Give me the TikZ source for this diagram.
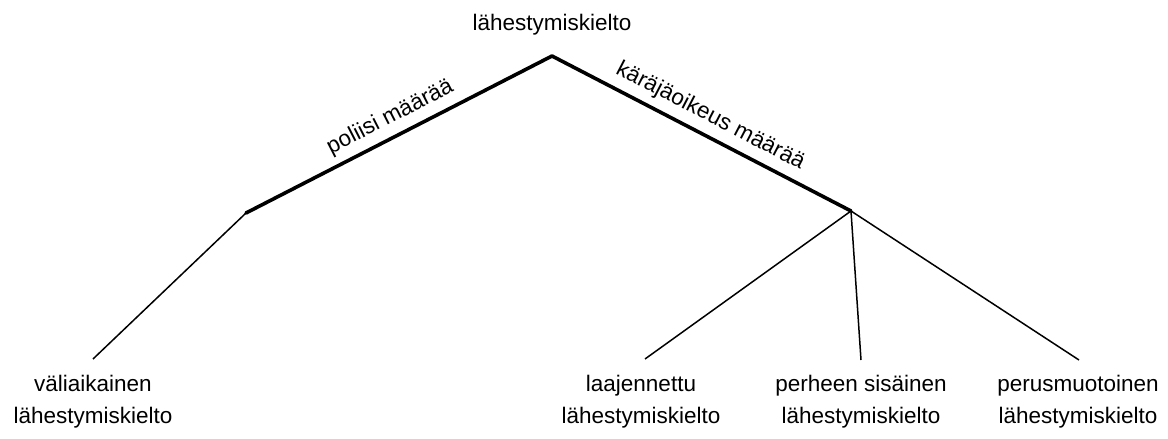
\documentclass[tikz,border=0pt]{standalone}
\usepackage{fontspec}
\setmainfont{Liberation Sans}
\begin{document}
\begin{tikzpicture}[x=1pt,y=-1pt,
  lbl/.style={font=\fontsize{22.5}{32}\selectfont, align=center, inner sep=0pt},
  edgelbl/.style={font=\fontsize{22.5}{27}\selectfont, sloped, above, inner sep=0pt, yshift=7pt, midway},
  main/.style={line width=3.6pt, line join=round, line cap=round},
  branch/.style={line width=1.5pt}]
\useasboundingbox (0,0) rectangle (1168,439);

% title and tree junctions
\node[lbl] (title) at (552,25) {lähestymiskielto};
\coordinate (apex) at (552,56);
\coordinate (police) at (246,213);
\coordinate (court) at (851,211);

% leaf labels
\node[lbl] (temp) at (93,402) {väliaikainen\\lähestymiskielto};
\node[lbl] (ext) at (641,402) {laajennettu\\lähestymiskielto};
\node[lbl] (fam) at (861,402) {perheen sisäinen\\lähestymiskielto};
\node[lbl] (basic) at (1078,402) {perusmuotoinen\\lähestymiskielto};

% free ends of the thin branches
\coordinate (tempEnd) at (93,359);
\coordinate (extEnd) at (645,359);
\coordinate (famEnd) at (861,360);
\coordinate (basicEnd) at (1079,360);

% authority branches
\draw[main] (police) -- node[edgelbl] {poliisi määrää} (apex);
\draw[main] (apex) -- node[edgelbl] {käräjäoikeus määrää} (court);

% order types
\draw[branch] (police) -- (tempEnd);
\draw[branch] (court) -- (extEnd);
\draw[branch] (court) -- (famEnd);
\draw[branch] (court) -- (basicEnd);
\end{tikzpicture}
\end{document}
